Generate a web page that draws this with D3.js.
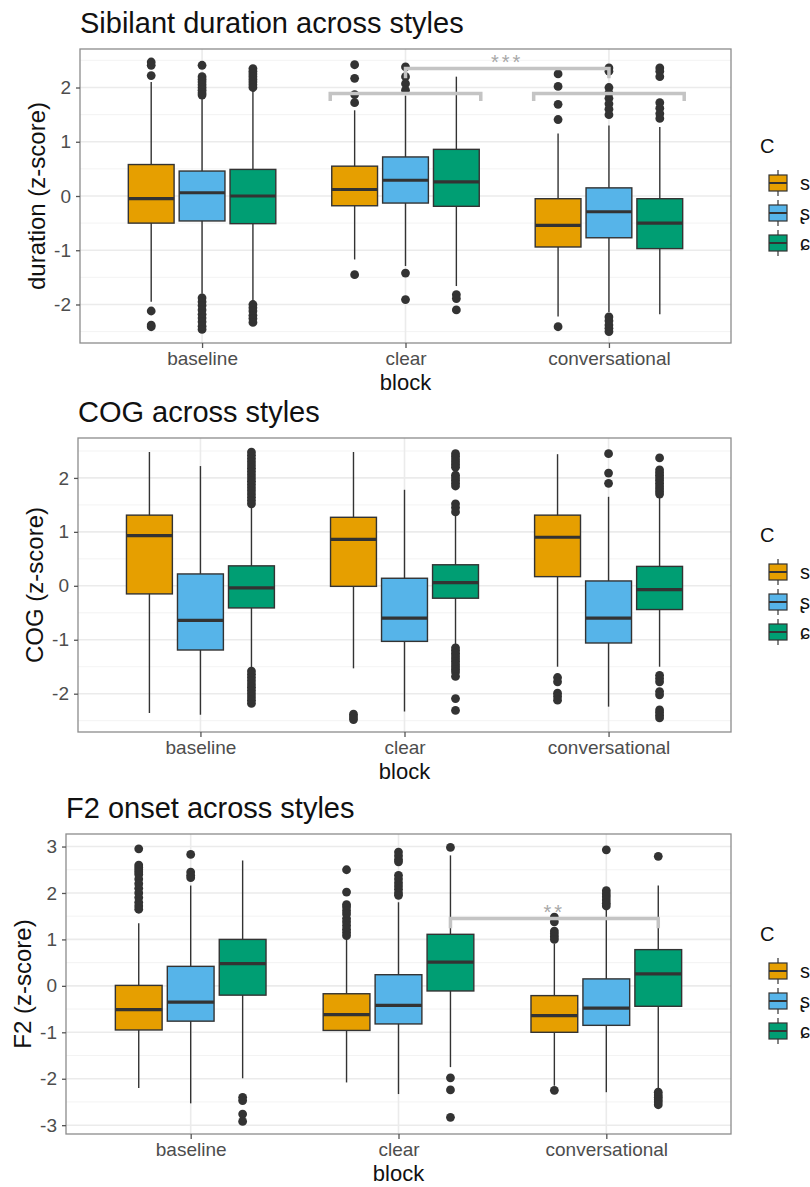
<!DOCTYPE html>
<html>
<head>
<meta charset="utf-8">
<script src="https://d3js.org/d3.v7.min.js"></script>
<style>
  body { margin: 0; background: #fff; }
  text { font-family: "Liberation Sans", Arial, Helvetica, sans-serif; }
</style>
</head>
<body>
<script>
// categories
var blocks = ["baseline", "clear", "conversational"];
var sibilants = ["s", "ʂ", "ɕ"];
var titles = ["Sibilant duration across styles", "COG across styles", "F2 onset across styles"];
var yLabels = ["duration (z-score)", "COG (z-score)", "F2 (z-score)"];
var legendTitle = "C";

// y ticks
var durationTicks = [-2, -1, 0, 1, 2];
var cogTicks = [-2, -1, 0, 1, 2];
var f2Ticks = [-3, -2, -1, 0, 1, 2, 3];

// y domains (data range + 5%)
var durationDomain = [-2.71, 2.71];
var cogDomain = [-2.71, 2.74];
var f2Domain = [-3.19, 3.27];

// box stats: block, sibilant, lower whisker, q1, median, q3, upper whisker
var durationStats = [
  ["baseline", "s", -1.95, -0.50, -0.05, 0.58, 2.10],
  ["baseline", "ʂ", -1.80, -0.46, 0.06, 0.46, 1.82],
  ["baseline", "ɕ", -1.95, -0.51, 0.00, 0.49, 1.98],
  ["clear", "s", -1.17, -0.18, 0.12, 0.55, 1.58],
  ["clear", "ʂ", -1.29, -0.13, 0.29, 0.72, 1.85],
  ["clear", "ɕ", -1.66, -0.19, 0.26, 0.86, 2.20],
  ["conversational", "s", -2.22, -0.94, -0.54, -0.05, 1.15],
  ["conversational", "ʂ", -2.14, -0.77, -0.29, 0.15, 1.30],
  ["conversational", "ɕ", -2.18, -0.97, -0.50, -0.05, 1.27]
];
var durationOutliers = [
  [2.47, 2.41, 2.22, -2.12, -2.38, -2.41],
  [2.41, 2.2, 2.15, 2.1, 2.05, 2.0, 1.95, 1.9, 1.86, -1.88, -1.95, -2.02, -2.1, -2.18, -2.25, -2.32, -2.4, -2.46],
  [2.35, 2.3, 2.25, 2.2, 2.15, 2.1, 2.05, 2.0, -2.0, -2.06, -2.12, -2.2, -2.26, -2.33],
  [2.42, 2.17, 1.87, 1.72, -1.45],
  [2.38, 2.2, 2.07, 1.95, -1.42, -1.91],
  [-1.82, -1.89, -2.1],
  [2.25, 2.02, 1.69, 1.41, -2.41],
  [2.36, 2.3, 2.0, 1.9, 1.8, 1.7, 1.6, 1.5, -2.23, -2.3, -2.38, -2.44, -2.5],
  [2.36, 2.3, 2.2, 1.72, 1.62, 1.52, 1.43]
];

var cogStats = [
  ["baseline", "s", -2.36, -0.15, 0.93, 1.31, 2.48],
  ["baseline", "ʂ", -2.39, -1.19, -0.64, 0.22, 2.22],
  ["baseline", "ɕ", -1.53, -0.41, -0.04, 0.37, 1.49],
  ["clear", "s", -1.53, -0.01, 0.86, 1.27, 2.48],
  ["clear", "ʂ", -2.33, -1.03, -0.60, 0.14, 1.78],
  ["clear", "ɕ", -1.10, -0.23, 0.06, 0.39, 1.31],
  ["conversational", "s", -1.50, 0.17, 0.90, 1.31, 2.44],
  ["conversational", "ʂ", -2.24, -1.06, -0.60, 0.09, 1.65],
  ["conversational", "ɕ", -1.50, -0.44, -0.07, 0.36, 1.65]
];
var cogOutliers = [
  [],
  [],
  [2.48, 2.42, 2.36, 2.3, 2.24, 2.18, 2.12, 2.06, 2.0, 1.94, 1.88, 1.82, 1.76, 1.7, 1.64, 1.58, 1.52,
   -1.58, -1.64, -1.7, -1.76, -1.82, -1.88, -1.94, -2.0, -2.06, -2.12, -2.18],
  [-2.38, -2.43, -2.48],
  [],
  [2.45, 2.4, 2.35, 2.3, 2.25, 2.2, 2.05, 2.0, 1.95, 1.9, 1.85, 1.52, 1.45, 1.37,
   -1.15, -1.2, -1.25, -1.3, -1.35, -1.4, -1.45, -1.5, -1.55, -1.6, -1.68, -2.09, -2.31],
  [-1.7, -1.78, -1.99, -2.05, -2.12],
  [2.45, 2.09, 1.9],
  [2.37, 2.15, 2.1, 2.05, 2.0, 1.95, 1.9, 1.85, 1.8, 1.75, 1.7,
   -1.66, -1.72, -1.78, -1.96, -2.02, -2.3, -2.35, -2.4, -2.45]
];

var f2Stats = [
  ["baseline", "s", -2.20, -0.95, -0.51, 0.01, 1.35],
  ["baseline", "ʂ", -2.53, -0.76, -0.35, 0.42, 2.16],
  ["baseline", "ɕ", -1.99, -0.20, 0.48, 1.00, 2.70],
  ["clear", "s", -2.08, -0.96, -0.62, -0.17, 1.01],
  ["clear", "ʂ", -2.33, -0.82, -0.42, 0.24, 1.80],
  ["clear", "ɕ", -1.75, -0.11, 0.51, 1.11, 2.81],
  ["conversational", "s", -2.15, -1.00, -0.64, -0.21, 0.91],
  ["conversational", "ʂ", -2.29, -0.85, -0.48, 0.15, 1.65],
  ["conversational", "ɕ", -2.22, -0.44, 0.26, 0.78, 2.16]
];
var f2Outliers = [
  [2.95, 2.6, 2.55, 2.5, 2.45, 2.4, 2.3, 2.2, 2.1, 2.0, 1.9, 1.8, 1.72, 1.65],
  [2.83, 2.45, 2.38, 2.33],
  [-2.4, -2.47, -2.76, -2.92],
  [2.5, 2.02, 1.75, 1.7, 1.62, 1.55, 1.45, 1.38, 1.3, 1.22, 1.15, 1.08],
  [2.88, 2.8, 2.72, 2.67, 2.38, 2.3, 2.22, 2.15, 2.08, 2.0, 1.95],
  [2.98, -1.98, -2.24, -2.83],
  [1.48, 1.38, 1.18, 1.12, 1.06, 1.0, -2.25],
  [2.93, 2.05, 1.98, 1.92, 1.85, 1.78, 1.72],
  [2.79, -2.29, -2.35, -2.4, -2.45, -2.5, -2.56]
];

// significance brackets: [block, offset], [block, offset], y, tip y, label
var durationBrackets = [
  {from: ["clear", -0.37], to: ["clear", 0.37], y: 1.89, tip: 1.75, label: ""},
  {from: ["conversational", -0.37], to: ["conversational", 0.37], y: 1.89, tip: 1.75, label: ""},
  {from: ["clear", 0], to: ["conversational", 0], y: 2.35, tip: 2.17, label: "***"}
];
var cogBrackets = [];
var f2Brackets = [
  {from: ["clear", 0.25], to: ["conversational", 0.25], y: 1.45, tip: 1.24, label: "**"}
];

var fills = {"s": "#E69F00", "ʂ": "#56B4E9", "ɕ": "#009E73"};

var W = 810, H = 1187;
var svg = d3.select("body").append("svg")
  .attr("width", W)
  .attr("height", H);

var panels = [
  {title: titles[0], ylab: yLabels[0], stats: durationStats, outliers: durationOutliers, brackets: durationBrackets,
   domain: durationDomain, ticks: durationTicks, left: 80, right: 731, top: 49, bottom: 343},
  {title: titles[1], ylab: yLabels[1], stats: cogStats, outliers: cogOutliers, brackets: cogBrackets,
   domain: cogDomain, ticks: cogTicks, left: 78, right: 731, top: 438, bottom: 732},
  {title: titles[2], ylab: yLabels[2], stats: f2Stats, outliers: f2Outliers, brackets: f2Brackets,
   domain: f2Domain, ticks: f2Ticks, left: 66, right: 731, top: 834, bottom: 1134}
];

panels.forEach(function(p) {
  var g = svg.append("g");
  var x = d3.scalePoint().domain(blocks).range([p.left, p.right]).padding(0.6);
  var step = x.step();
  var sub = d3.scaleBand().domain(sibilants)
    .range([-0.375 * step, 0.375 * step])
    .paddingInner(0.1).paddingOuter(0.05);
  var y = d3.scaleLinear().domain(p.domain).range([p.bottom, p.top]);
  var cx = function(b, s) { return x(b) + sub(s) + sub.bandwidth() / 2; };

  // minor grid
  var minor = d3.range(p.ticks[0] - 0.5, p.ticks[p.ticks.length - 1] + 1, 1)
    .filter(function(v) { return v > p.domain[0] && v < p.domain[1]; });
  g.selectAll(".minor").data(minor).enter().append("line")
    .attr("x1", p.left).attr("x2", p.right)
    .attr("y1", function(d) { return y(d); }).attr("y2", function(d) { return y(d); })
    .attr("stroke", "#F2F2F2").attr("stroke-width", 0.9);
  // major grid
  g.selectAll(".major").data(p.ticks).enter().append("line")
    .attr("x1", p.left).attr("x2", p.right)
    .attr("y1", function(d) { return y(d); }).attr("y2", function(d) { return y(d); })
    .attr("stroke", "#EBEBEB").attr("stroke-width", 1.6);
  g.selectAll(".vgrid").data(blocks).enter().append("line")
    .attr("x1", function(d) { return x(d); }).attr("x2", function(d) { return x(d); })
    .attr("y1", p.top).attr("y2", p.bottom)
    .attr("stroke", "#EBEBEB").attr("stroke-width", 1.6);

  // whiskers
  var boxes = g.selectAll(".box").data(p.stats).enter().append("g");
  boxes.append("line")
    .attr("x1", function(d) { return cx(d[0], d[1]); })
    .attr("x2", function(d) { return cx(d[0], d[1]); })
    .attr("y1", function(d) { return y(d[2]); })
    .attr("y2", function(d) { return y(d[6]); })
    .attr("stroke", "#333").attr("stroke-width", 1.4);
  boxes.append("rect")
    .attr("x", function(d) { return x(d[0]) + sub(d[1]); })
    .attr("width", sub.bandwidth())
    .attr("y", function(d) { return y(d[5]); })
    .attr("height", function(d) { return y(d[3]) - y(d[5]); })
    .attr("fill", function(d) { return fills[d[1]]; })
    .attr("stroke", "#333").attr("stroke-width", 1.4);
  boxes.append("line")
    .attr("x1", function(d) { return x(d[0]) + sub(d[1]); })
    .attr("x2", function(d) { return x(d[0]) + sub(d[1]) + sub.bandwidth(); })
    .attr("y1", function(d) { return y(d[4]); })
    .attr("y2", function(d) { return y(d[4]); })
    .attr("stroke", "#333").attr("stroke-width", 3.2);

  // outliers
  p.stats.forEach(function(d, i) {
    g.selectAll(null).data(p.outliers[i]).enter().append("circle")
      .attr("cx", cx(d[0], d[1]))
      .attr("cy", function(v) { return y(v); })
      .attr("r", 4.4)
      .attr("fill", "#333");
  });

  // significance brackets
  p.brackets.forEach(function(b) {
    var x1 = x(b.from[0]) + b.from[1] * step;
    var x2 = x(b.to[0]) + b.to[1] * step;
    g.append("path")
      .attr("d", d3.line()([[x1, y(b.tip)], [x1, y(b.y)], [x2, y(b.y)], [x2, y(b.tip)]]))
      .attr("fill", "none").attr("stroke", "#C4C4C4").attr("stroke-width", 3.5);
    g.append("text")
      .attr("x", (x1 + x2) / 2).attr("y", y(b.y))
      .attr("text-anchor", "middle")
      .attr("font-size", 20).attr("letter-spacing", 3)
      .attr("fill", "#A8A8A8")
      .text(b.label);
  });

  // panel border
  g.append("rect")
    .attr("x", p.left).attr("y", p.top)
    .attr("width", p.right - p.left).attr("height", p.bottom - p.top)
    .attr("fill", "none").attr("stroke", "#8C8C8C").attr("stroke-width", 1.3);

  // axes
  var yAxis = d3.axisLeft(y).tickValues(p.ticks).tickSize(4).tickPadding(5)
    .tickFormat(function(d) { return String(d); });
  var ya = g.append("g").attr("transform", "translate(" + p.left + ",0)").call(yAxis);
  var xAxis = d3.axisBottom(x).tickSize(5).tickPadding(4);
  var xa = g.append("g").attr("transform", "translate(0," + p.bottom + ")").call(xAxis);
  [ya, xa].forEach(function(a) {
    a.select(".domain").remove();
    a.selectAll(".tick line").attr("stroke", "#555").attr("stroke-width", 1.3);
    a.selectAll(".tick text").attr("fill", "#4D4D4D").attr("font-size", 19)
      .attr("font-family", "Liberation Sans, Arial, sans-serif");
  });
  xa.selectAll(".tick text").attr("dy", "0.71em");

  // titles
  g.append("text").attr("x", p.left).attr("y", p.top - 16)
    .attr("font-size", 29).attr("fill", "#111").text(p.title);
  g.append("text").attr("x", (p.left + p.right) / 2).attr("y", p.bottom + 47)
    .attr("text-anchor", "middle").attr("font-size", 22).attr("fill", "#111").text("block");
  g.append("text")
    .attr("transform", "translate(" + (p.left - 35) + "," + ((p.top + p.bottom) / 2) + ") rotate(-90)")
    .attr("text-anchor", "middle").attr("font-size", 24).attr("fill", "#111").text(p.ylab);

  // legend
  var mid = (p.top + p.bottom) / 2;
  g.append("text").attr("x", 760).attr("y", mid - 43)
    .attr("font-size", 20).attr("fill", "#111").text(legendTitle);
  var keys = g.selectAll(".key").data(sibilants).enter().append("g")
    .attr("transform", function(d, i) { return "translate(778," + (mid - 13 + i * 30) + ")"; });
  keys.append("line").attr("y1", -13).attr("y2", 13)
    .attr("stroke", "#333").attr("stroke-width", 1.2);
  keys.append("rect").attr("x", -9).attr("y", -8).attr("width", 18).attr("height", 16)
    .attr("fill", function(d) { return fills[d]; })
    .attr("stroke", "#333").attr("stroke-width", 1.2);
  keys.append("line").attr("x1", -9).attr("x2", 9)
    .attr("stroke", "#333").attr("stroke-width", 2);
  keys.append("text").attr("x", 22).attr("y", 7)
    .attr("font-size", 20).attr("fill", "#111")
    .text(function(d) { return d; });
});
</script>
</body>
</html>
